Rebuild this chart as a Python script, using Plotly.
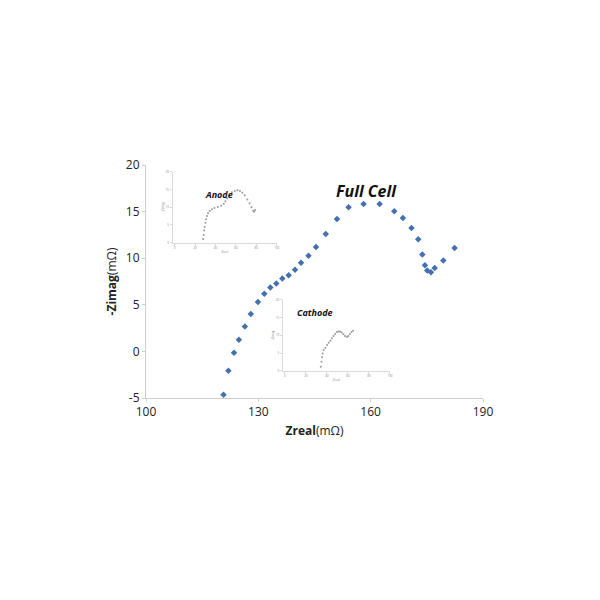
import plotly.graph_objects as go

# Full cell impedance (main chart)
full_zreal = [120.7, 122.0, 123.5, 124.8, 126.4, 128.0, 129.9, 131.6, 133.2, 134.8,
              136.4, 138.1, 139.8, 141.4, 143.4, 145.4, 148.0, 151.0, 154.1, 158.1,
              162.4, 166.3, 168.6, 170.9, 172.7, 173.8, 174.5, 175.1, 176.1, 177.1,
              179.4, 182.4]
full_zimag = [-4.64, -2.07, -0.14, 1.25, 2.68, 4.0, 5.29, 6.18, 6.86, 7.29,
              7.82, 8.18, 8.75, 9.5, 10.25, 11.21, 12.6, 14.21, 15.46, 15.82,
              15.82, 15.04, 14.32, 13.25, 12.04, 10.39, 9.25, 8.68, 8.5, 8.96,
              9.75, 11.1]

# Anode inset
anode_zreal = [27.9, 28.5, 28.8, 29.4, 30.1, 30.7, 31.7, 32.7, 34.3, 36.5, 39.0,
               42.3, 45.5, 48.1, 49.7, 51.3, 53.5, 56.1, 58.9, 61.5, 64.0, 66.3,
               68.6, 71.2, 73.4, 75.3, 76.9, 77.9, 78.8]
anode_zimag = [1.04, 2.17, 3.38, 4.5, 5.63, 6.6, 7.5, 8.3, 8.9, 9.4, 9.8,
               10.06, 10.4, 11.0, 11.7, 12.5, 13.4, 14.2, 14.6, 14.8, 14.6, 14.1,
               13.4, 12.2, 11.1, 10.0, 9.0, 8.7, 9.2]

# Cathode inset
cathode_zreal = [34.1, 34.8, 35.4, 36.0, 36.9, 38.5, 40.1, 41.6, 43.2, 44.7, 46.3,
                 47.8, 49.4, 50.9, 52.5, 54.1, 55.6, 57.1, 59.0, 60.2, 61.8, 63.4, 64.9]
cathode_zimag = [1.13, 2.55, 3.78, 4.9, 5.85, 6.5, 7.27, 7.9, 8.5, 9.17, 9.8,
                 10.4, 10.96, 11.1, 11.1, 10.8, 10.3, 9.8, 9.5, 9.8, 10.4, 10.96, 11.3]

main_xticks = [100, 130, 160, 190]
main_yticks = [-5, 0, 5, 10, 15, 20]
main_ytext = ["-5", "0", "5", "10", "15", "20"]
inset_xticks = [0, 20, 40, 60, 80, 100]
inset_yticks = [0, 5, 10, 15, 20]

FONT = "Open Sans"
fig = go.Figure()

fig.add_trace(go.Scatter(x=full_zreal, y=full_zimag, mode="markers",
                         marker=dict(symbol="diamond", size=5, color="#4470B0"),
                         xaxis="x", yaxis="y", showlegend=False))
fig.add_trace(go.Scatter(x=anode_zreal, y=anode_zimag, mode="markers",
                         marker=dict(symbol="circle", size=2, color="#9a9a9a"),
                         xaxis="x2", yaxis="y2", showlegend=False))
fig.add_trace(go.Scatter(x=cathode_zreal, y=cathode_zimag, mode="markers",
                         marker=dict(symbol="circle", size=2, color="#9a9a9a"),
                         xaxis="x3", yaxis="y3", showlegend=False))

inset_axis = dict(showgrid=False, zeroline=False, showline=True, linecolor="#dadada",
                  linewidth=1, ticks="outside", ticklen=2, tickcolor="#dadada",
                  tickfont=dict(size=3, color="#888", family=FONT))

fig.update_layout(
    width=600, height=600,
    margin=dict(l=138, r=125, t=157, b=210),
    paper_bgcolor="white", plot_bgcolor="white",
    font=dict(family=FONT, color="#222"),
    xaxis=dict(range=[100, 190], tickvals=main_xticks, showgrid=False, zeroline=False,
               showline=True, linecolor="#cfcfcf", ticks="outside", ticklen=3,
               tickcolor="#cfcfcf", tickfont=dict(size=12, family=FONT, color="#222"),
               title=dict(text="<b>Zreal</b>(mΩ)", font=dict(size=12, family=FONT), standoff=7)),
    yaxis=dict(range=[-5, 20], tickvals=main_yticks, ticktext=main_ytext, showgrid=False,
               zeroline=False, showline=True, linecolor="#cfcfcf", ticks="outside", ticklen=3,
               tickcolor="#cfcfcf", tickfont=dict(size=12, family=FONT, color="#222"),
               title=dict(text="<b>-Zimag</b>(mΩ)", font=dict(size=12, family=FONT), standoff=6)),
    xaxis2=dict(domain=[0.079, 0.388], anchor="y2", range=[-2, 100], tickvals=inset_xticks,
                title=dict(text="Zreal", font=dict(size=3, color="#888"), standoff=1), **inset_axis),
    yaxis2=dict(domain=[0.667, 0.971], anchor="x2", range=[0, 20], tickvals=inset_yticks,
                title=dict(text="-Zimag", font=dict(size=3, color="#888"), standoff=1), **inset_axis),
    xaxis3=dict(domain=[0.406, 0.724], anchor="y3", range=[-2, 100], tickvals=inset_xticks,
                title=dict(text="Zreal", font=dict(size=3, color="#888"), standoff=1), **inset_axis),
    yaxis3=dict(domain=[0.117, 0.421], anchor="x3", range=[0, 20], tickvals=inset_yticks,
                title=dict(text="-Zimag", font=dict(size=3, color="#888"), standoff=1), **inset_axis),
)

fig.add_annotation(text="<b><i>Full Cell</i></b>", xref="paper", yref="paper",
                   x=(366.7 - 146) / 337, y=(398 - 178) / 233, showarrow=False,
                   font=dict(size=16, family=FONT, color="#111"))
fig.add_annotation(text="<b><i>Anode</i></b>", xref="paper", yref="paper",
                   x=(203 - 146) / 337, y=(398 - 186) / 233, showarrow=False,
                   font=dict(size=9, family=FONT, color="#111"))
fig.add_annotation(text="<b><i>Cathode</i></b>", xref="paper", yref="paper",
                   x=(315 - 146) / 337, y=(398 - 321) / 233, showarrow=False,
                   font=dict(size=9, family=FONT, color="#111"))

fig.write_html("out.html")
